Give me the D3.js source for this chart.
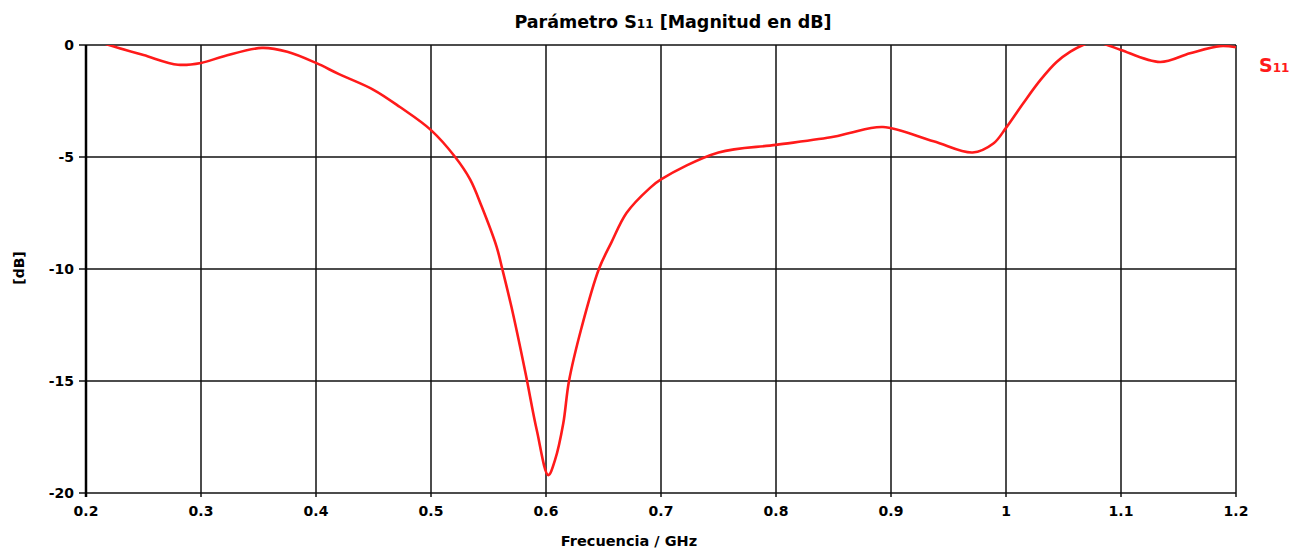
<!DOCTYPE html>
<html><head><meta charset="utf-8">
<script src="https://cdn.jsdelivr.net/npm/d3@7"></script>
<style>body{margin:0;background:#fff}svg{display:block}text{font-family:"DejaVu Sans",Verdana,sans-serif;font-weight:bold}</style>
</head><body><svg id="c" width="1291" height="550"></svg>
<script>
const freq = [0.20,0.22,0.25,0.28,0.30,0.32,0.353,0.375,0.40,0.42,0.45,0.473,0.50,0.521,0.534,0.544,0.557,0.562,0.570,0.582,0.592,0.602,0.608,0.615,0.620,0.631,0.646,0.657,0.670,0.690,0.70,0.75,0.80,0.85,0.864,0.893,0.937,0.971,0.989,1.00,1.015,1.030,1.044,1.056,1.067,1.077,1.088,1.10,1.134,1.16,1.186,1.20];
const s11 = [0.35,0.0,-0.45,-0.88,-0.8,-0.5,-0.13,-0.3,-0.8,-1.3,-2.0,-2.77,-3.8,-5.0,-6.0,-7.2,-9.0,-10.0,-11.7,-14.6,-17.2,-19.2,-18.5,-16.9,-15.0,-12.6,-10.0,-8.8,-7.5,-6.4,-6.0,-4.8,-4.46,-4.1,-3.93,-3.66,-4.3,-4.8,-4.4,-3.7,-2.6,-1.56,-0.76,-0.3,0.0,0.15,0.0,-0.22,-0.76,-0.37,-0.05,-0.1];
const xTicks = [0.2,0.3,0.4,0.5,0.6,0.7,0.8,0.9,1,1.1,1.2];
const yTicks = [0,-5,-10,-15,-20];

const svg = d3.select("#c");
const x = d3.scaleLinear().domain([0.2,1.2]).range([86,1236]);
const y = d3.scaleLinear().domain([-20,0]).range([493,45]);

svg.append("g").selectAll("line").data(xTicks).join("line")
  .attr("x1",d=>x(d)).attr("x2",d=>x(d)).attr("y1",y(0)).attr("y2",y(-20)+4)
  .attr("stroke","#111").attr("stroke-width",1.5);
svg.append("g").selectAll("line").data(yTicks).join("line")
  .attr("x1",x(0.2)-7).attr("x2",x(1.2)).attr("y1",d=>y(d)).attr("y2",d=>y(d))
  .attr("stroke","#111").attr("stroke-width",1.5);
svg.append("line").attr("x1",x(0.2)).attr("x2",x(0.2)).attr("y1",y(0)).attr("y2",y(-20)+4)
  .attr("stroke","#000").attr("stroke-width",2.5);

svg.append("g").selectAll("text").data(xTicks).join("text")
  .attr("x",d=>x(d)).attr("y",516).attr("text-anchor","middle").attr("font-size",14)
  .text(d=>d===1?"1":d3.format(".1f")(d));
svg.append("g").selectAll("text").data(yTicks).join("text")
  .attr("x",74).attr("y",d=>y(d)+5).attr("text-anchor","end").attr("font-size",14)
  .text(d=>d);

svg.append("clipPath").attr("id","pc").append("rect")
  .attr("x",x(0.2)).attr("y",y(0)).attr("width",x(1.2)-x(0.2)).attr("height",y(-20)-y(0));
const line = d3.line().x((d,i)=>x(freq[i])).y(d=>y(d)).curve(d3.curveCatmullRom.alpha(0.5));
svg.append("path").datum(s11).attr("d",line).attr("clip-path","url(#pc)")
  .attr("fill","none").attr("stroke","#ff1a1a").attr("stroke-width",2.6);

const t = svg.append("text").attr("x",673).attr("y",28).attr("text-anchor","middle").attr("font-size",17.5);
t.append("tspan").text("Parámetro S");
t.append("tspan").attr("font-size",12).text("11");
t.append("tspan").text(" [Magnitud en dB]");

const lg = svg.append("text").attr("x",1259).attr("y",72).attr("fill","#ff1a1a").attr("font-size",19);
lg.append("tspan").text("S");
lg.append("tspan").attr("font-size",12).text("11");

svg.append("text").attr("x",629).attr("y",546).attr("text-anchor","middle").attr("font-size",14.5).text("Frecuencia / GHz");
svg.append("text").attr("transform","translate(24,268) rotate(-90)").attr("text-anchor","middle").attr("font-size",14).text("[dB]");
</script></body></html>
